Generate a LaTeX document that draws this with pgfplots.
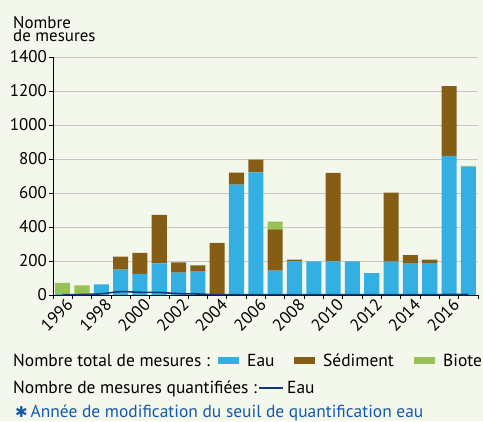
\documentclass[border=0pt]{standalone}
\usepackage{pgfplots}
\pgfplotsset{compat=1.18}
\usepackage{fontspec}
\setmainfont{PT Sans}
\newfontfamily\dejavu{DejaVu Sans}
\definecolor{bgc}{RGB}{243,247,236}
\definecolor{eau}{RGB}{51,175,225}
\definecolor{sed}{RGB}{133,93,21}
\definecolor{biote}{RGB}{153,194,85}
\definecolor{quant}{RGB}{18,58,120}
\definecolor{note}{RGB}{20,90,170}

% year, eau, sediment, biote
\pgfplotstableread{
year eau sed bio
1996 5 0 67
1997 3 0 53
1998 62 0 0
1999 150 76 0
2000 124 124 0
2001 186 286 0
2002 132 60 0
2003 140 34 0
2004 0 306 0
2005 650 70 0
2006 722 74 0
2007 143 243 45
2008 198 10 0
2009 198 0 0
2010 198 521 0
2011 198 0 0
2012 129 0 0
2013 196 406 0
2014 188 47 0
2015 188 20 0
2016 819 410 0
2017 755 0 5
}\mesures

\pgfplotsset{base/.style={
  at={(53bp,126bp)},anchor=south west,scale only axis,width=425bp,height=238bp,
  xmin=1995.5,xmax=2017.5,ymin=0,ymax=1400}}

\begin{document}
\fontsize{17.5}{20}\selectfont
\begin{tikzpicture}[x=1bp,y=1bp]
\path[use as bounding box,fill=bgc] (0,0) rectangle (483,421);
\begin{axis}[base,ybar stacked,bar width=0.78,
  axis x line*=bottom,axis y line*=left,axis line style={black,line width=0.9pt},
  ytick={0,200,...,1400},ymajorgrids,grid style={black!22,line width=0.9pt},
  xtick={1996,1998,...,2016},minor xtick={1995.5,1996.5,...,2017.5},
  major x tick style={draw=none},minor x tick style={black,line width=0.8pt},
  tick align=outside,major tick length=4bp,minor tick length=3.5bp,
  ytick style={black,line width=0.8pt},
  xticklabel style={rotate=45,anchor=north east,inner sep=1pt,xshift=4bp},
  yticklabel style={inner sep=2pt},
  /pgf/number format/assume math mode=true,/pgf/number format/1000 sep={},
  ticklabel style={font=\fontsize{17}{20}\selectfont}]
\addplot[fill=eau,draw=none] table[x=year,y=eau] {\mesures};
\addplot[fill=sed,draw=none] table[x=year,y=sed] {\mesures};
\addplot[fill=biote,draw=none] table[x=year,y=bio] {\mesures};
\node[text=note,font=\dejavu\fontsize{17}{20}\selectfont] at (axis cs:2003,0) [yshift=-12bp] {✱};
\end{axis}
\begin{axis}[base,hide axis]
\addplot[quant,line width=1.6pt,smooth] coordinates {
(1996,2) (1997,3) (1998,7) (1999,20) (2000,16) (2001,15) (2002,8) (2003,6)
(2004,2) (2005,2) (2006,2) (2007,2) (2008,2) (2009,2) (2010,2) (2011,2)
(2012,2) (2013,2) (2014,2) (2015,2) (2016,3) (2017,3)};
\end{axis}
\node[anchor=north west,align=left,inner sep=0pt,font=\fontsize{17}{13}\selectfont] at (13,405) {Nombre\\de mesures};
% legend
\node[anchor=base west,inner sep=0pt] at (13,55) {Nombre total de mesures :};
\fill[eau] (218,57) rectangle (239,64);
\node[anchor=base west,inner sep=0pt] at (247,55) {Eau};
\fill[sed] (294,57) rectangle (315,64);
\node[anchor=base west,inner sep=0pt] at (323,55) {Sédiment};
\fill[biote] (414,57) rectangle (435,64);
\node[anchor=base west,inner sep=0pt] at (443,55) {Biote};
\node[anchor=base west,inner sep=0pt] at (13,28) {Nombre de mesures quantifiées :};
\draw[quant,line width=1.6pt] (259,33) -- (283,33);
\node[anchor=base west,inner sep=0pt] at (287,28) {Eau};
\node[anchor=base west,inner sep=0pt,text=note] at (15,3.5) {{\dejavu\fontsize{15}{17}\selectfont ✱}\,Année de modification du seuil de quantification eau};
\end{tikzpicture}
\end{document}
